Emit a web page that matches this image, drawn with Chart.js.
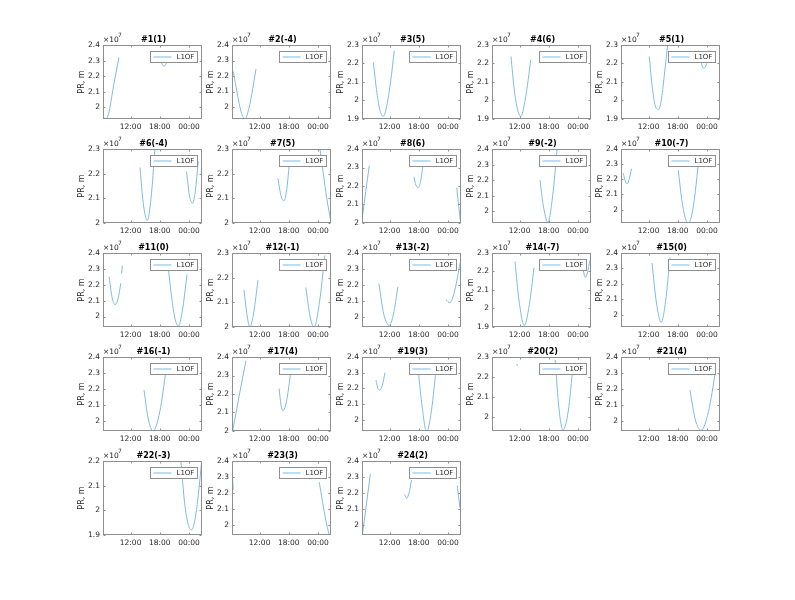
<!DOCTYPE html>
<html><head><meta charset="utf-8">
<script src="https://cdn.jsdelivr.net/npm/chart.js@4.4.0/dist/chart.umd.min.js"></script>
<style>
body{margin:0;background:#fff;}
#wrap{position:relative;width:795px;height:600px;background:#fff;overflow:hidden;}
#wrap canvas{position:absolute;}
</style></head><body><div id="wrap"></div>
<script>
// pseudorange (x1e7 m) per GLONASS slot, hours of day (24+ = next day)
const titles = ['#1(1)','#2(-4)','#3(5)','#4(6)','#5(1)','#6(-4)','#7(5)','#8(6)','#9(-2)','#10(-7)',
  '#11(0)','#12(-1)','#13(-2)','#14(-7)','#15(0)','#16(-1)','#17(4)','#19(3)','#20(2)','#21(4)',
  '#22(-3)','#23(3)','#24(2)'];
const yMins = [1.925,1.923,1.9,1.9,1.9, 2.0,2.0,2.0,1.925,1.912, 1.934,2.0,1.94,1.9,1.92, 1.94,2.0,1.93,1.93,1.94, 1.9,1.936,1.936];
const yMaxs = [2.4,2.4,2.3,2.3,2.3, 2.3,2.3,2.4,2.4,2.4, 2.4,2.3,2.4,2.3,2.4, 2.4,2.4,2.4,2.3,2.4, 2.2,2.4,2.4];
const xMin = 6.33, xMax = 26.67;
const xTicks = [12, 18, 24];
const xTickLabels = ['12:00', '18:00', '00:00'];
const seriesName = 'L1OF';

const sat1 = [[[6.33,1.94],[6.9,1.926],[7.5,1.96],[8.45,2.13],[9.0,2.22],[9.6,2.32]],
  [[17.8,2.36],[18.2,2.3],[18.8,2.265],[19.5,2.3],[19.8,2.36]]];
const sat2 = [[[6.6,2.23],[7.4,2.09],[8.2,1.97],[9.0,1.922],[9.8,1.99],[10.6,2.12],[11.26,2.245]],
  [[19.8,2.31],[19.95,2.29]]];
const sat3 = [[[8.65,2.208],[9.3,2.06],[10.0,1.95],[10.7,1.914],[11.4,1.97],[12.2,2.1],[12.96,2.269]]];
const sat4 = [[[10.23,2.238],[10.9,2.06],[11.6,1.95],[12.28,1.914],[12.9,1.97],[13.6,2.08],[14.28,2.22]]];
const sat5 = [[[12.14,2.238],[12.8,2.06],[13.4,1.97],[13.99,1.95],[14.6,2.0],[15.2,2.13],[15.7,2.248],[16.0,2.32]],
  [[22.3,2.27],[22.76,2.21],[23.3,2.175],[24.05,2.21],[24.4,2.27]]];
const sat6 = [[[13.93,2.225],[14.6,2.08],[15.43,2.01],[16.2,2.1],[17.0,2.3]],
  [[23.5,2.208],[24.1,2.11],[24.75,2.08],[25.3,2.13],[25.9,2.25]]];
const sat7 = [[[15.78,2.18],[16.4,2.11],[17.0,2.09],[17.6,2.14],[18.2,2.26]],
  [[24.4,2.3],[25.1,2.2],[25.8,2.1],[26.6,2.01]]];
const sat8 = [[[6.45,2.04],[7.1,2.17],[7.83,2.31]],
  [[17.0,2.25],[17.4,2.205],[17.9,2.19],[18.4,2.23],[18.9,2.32]],
  [[25.8,2.19],[26.2,2.09],[26.6,2.0]]];
const sat9 = [[[16.2,2.2],[16.8,2.05],[17.8,1.93],[18.8,2.1],[19.7,2.4]]];
const sat10 = [[[6.8,2.24],[7.2,2.19],[7.6,2.17],[8.0,2.2],[8.5,2.27]],
  [[18.1,2.26],[18.8,2.07],[19.5,1.95],[20.15,1.91],[20.9,1.97],[21.6,2.12],[22.3,2.33]]];
const sat11 = [[[7.6,2.25],[8.2,2.12],[8.8,2.075],[9.4,2.11],[10.0,2.21]],
  [[10.15,2.27],[10.3,2.32]],
  [[19.7,2.32],[20.4,2.13],[21.1,1.99],[21.8,1.94],[22.6,2.03],[23.6,2.265]]];
const sat12 = [[[8.8,2.15],[9.4,2.05],[10.0,2.0],[10.8,2.06],[11.67,2.19]],
  [[21.5,2.16],[22.4,2.04],[23.2,2.0],[24.3,2.1],[25.4,2.29]]];
const sat13 = [[[9.8,2.21],[10.8,2.02],[11.9,1.95],[12.8,2.02],[13.7,2.19]],
  [[23.6,2.11],[24.4,2.09],[25.4,2.17],[26.5,2.34]]];
const sat14 = [[[11.05,2.254],[11.9,2.04],[12.96,1.908],[14.0,2.02],[14.96,2.22]],
  [[24.95,2.22],[25.5,2.168],[26.0,2.2],[26.45,2.26]]];
const sat15 = [[[12.7,2.335],[13.6,2.08],[14.6,1.95],[15.5,2.09],[16.4,2.37]]];
const sat16 = [[[14.75,2.195],[15.6,2.02],[16.6,1.94],[18.0,2.06],[19.3,2.32]]];
const sat17 = [[[6.5,2.005],[7.8,2.19],[9.2,2.38]],
  [[16.0,2.23],[16.4,2.14],[16.8,2.11],[17.6,2.17],[18.4,2.32]]];
const sat19 = [[[9.2,2.253],[9.6,2.2],[10.0,2.19],[10.5,2.22],[11.05,2.3]],
  [[17.9,2.31],[18.7,2.08],[19.6,1.925],[20.6,2.06],[21.67,2.36]]];
const sat20 = [[[11.45,2.265],[11.55,2.255]],
  [[19.3,2.285],[20.1,2.04],[20.9,1.935],[22.0,2.03],[23.0,2.26]]];
const sat21 = [[[20.5,2.195],[21.6,2.01],[22.8,1.945],[24.3,2.06],[25.8,2.32]]];
const sat22 = [[[22.35,2.196],[23.1,2.03],[23.8,1.945],[24.5,1.92],[25.2,1.96],[25.9,2.06],[26.6,2.2]]];
const sat23 = [[[6.4,2.31],[6.6,2.22]],
  [[24.26,2.267],[24.9,2.15],[25.6,2.03],[26.3,1.936]]];
const sat24 = [[[6.4,1.936],[7.2,2.12],[8.05,2.32]],
  [[15.1,2.19],[15.47,2.167],[16.0,2.2],[16.5,2.28]],
  [[25.9,2.245],[26.2,2.17],[26.45,2.107]]];
const prSeries = [sat1,sat2,sat3,sat4,sat5,sat6,sat7,sat8,sat9,sat10,sat11,sat12,sat13,sat14,sat15,
  sat16,sat17,sat19,sat20,sat21,sat22,sat23,sat24];

// layout of the 5x5 grid (plot boxes)
const colLeft = [103, 232, 362, 492, 621];
const rowTop = [45, 149, 253, 357, 461];
const plotW = 99, plotH = 74;
const padL = 42, padT = 20, padR = 4, padB = 20;

const lineColor = '#7dbbe6';
const boxColor = '#8f8f8f';
const txtColor = '#262626';
const fontFam = '"DejaVu Sans", sans-serif';

function toPoints(segs) {
    const out = [];
    segs.forEach((seg, k) => {
        if (k > 0) out.push({ x: (seg[0][0] + segs[k - 1][segs[k - 1].length - 1][0]) / 2, y: null });
        seg.forEach(p => out.push({ x: p[0], y: p[1] }));
    });
    return out;
}

const decorPlugin = {
    id: 'decor',
    afterDatasetsDraw(chart, args, opts) {
        const ctx = chart.ctx, a = chart.chartArea;
        const l = Math.round(a.left) + 0.5, t = Math.round(a.top) + 0.5;
        const r = Math.round(a.right) - 0.5, b = Math.round(a.bottom) - 0.5;
        ctx.save();
        // small inward tick marks
        ctx.strokeStyle = boxColor;
        ctx.lineWidth = 1;
        ctx.beginPath();
        chart.scales.y.ticks.forEach(tk => {
            const py = Math.round(chart.scales.y.getPixelForValue(tk.value)) + 0.5;
            ctx.moveTo(l, py); ctx.lineTo(l + 2, py);
            ctx.moveTo(r, py); ctx.lineTo(r - 2, py);
        });
        chart.scales.x.ticks.forEach(tk => {
            const px = Math.round(chart.scales.x.getPixelForValue(tk.value)) + 0.5;
            ctx.moveTo(px, b); ctx.lineTo(px, b - 2);
            ctx.moveTo(px, t); ctx.lineTo(px, t + 2);
        });
        ctx.stroke();
        // legend box
        const lw = 47, lh = 11;
        const lx = Math.round(a.right) - 5 - lw + 0.5, ly = Math.round(a.top) + 6 + 0.5;
        ctx.fillStyle = '#fff';
        ctx.fillRect(lx, ly, lw, lh);
        ctx.strokeStyle = boxColor;
        ctx.strokeRect(lx, ly, lw, lh);
        ctx.strokeStyle = lineColor;
        ctx.beginPath();
        ctx.moveTo(lx + 3, ly + 5.5); ctx.lineTo(lx + 21, ly + 5.5);
        ctx.stroke();
        ctx.fillStyle = txtColor;
        ctx.font = '7px ' + fontFam;
        ctx.textBaseline = 'middle';
        ctx.textAlign = 'left';
        ctx.fillText(seriesName, lx + 26, ly + 6);
        // box
        ctx.strokeStyle = boxColor;
        ctx.strokeRect(l, t, r - l, b - t);
        // title
        ctx.fillStyle = '#000';
        ctx.font = 'bold 8px ' + fontFam;
        ctx.textAlign = 'center';
        ctx.textBaseline = 'alphabetic';
        ctx.fillText(opts.title, (a.left + a.right) / 2 + 1, a.top - 3);
        // exponent
        ctx.fillStyle = txtColor;
        ctx.font = '7.5px ' + fontFam;
        ctx.textAlign = 'left';
        ctx.fillText('\u00d710', a.left, a.top - 3);
        ctx.font = '6px ' + fontFam;
        ctx.fillText('7', a.left + 15, a.top - 8);
        // y label
        ctx.font = '8px ' + fontFam;
        ctx.translate(a.left - 21, (a.top + a.bottom) / 2);
        ctx.rotate(-Math.PI / 2);
        ctx.textAlign = 'center';
        ctx.textBaseline = 'middle';
        ctx.fillText('PR, m', 0, 0);
        ctx.restore();
    }
};

const wrap = document.getElementById('wrap');
titles.forEach((title, i) => {
    const row = Math.floor(i / 5), col = i % 5;
    const cv = document.createElement('canvas');
    const w = padL + plotW + padR, h = padT + plotH + padB;
    cv.width = w; cv.height = h;
    cv.style.left = (colLeft[col] - padL) + 'px';
    cv.style.top = (rowTop[row] - padT) + 'px';
    cv.style.width = w + 'px'; cv.style.height = h + 'px';
    wrap.appendChild(cv);

    const yMin = yMins[i], yMax = yMaxs[i];
    new Chart(cv, {
        type: 'line',
        data: {
            datasets: [{
                label: seriesName,
                data: toPoints(prSeries[i]),
                borderColor: lineColor,
                borderWidth: 1,
                pointRadius: 0,
                spanGaps: false,
                tension: 0.4,
                cubicInterpolationMode: 'monotone'
            }]
        },
        options: {
            responsive: false,
            animation: false,
            devicePixelRatio: 1,
            layout: { padding: { top: padT, right: padR, left: 0, bottom: 0 } },
            plugins: {
                legend: { display: false },
                tooltip: { enabled: false },
                decor: { title: title }
            },
            scales: {
                x: {
                    type: 'linear', min: xMin, max: xMax,
                    grid: { display: false, drawTicks: false },
                    border: { display: false },
                    afterBuildTicks: s => { s.ticks = xTicks.map(v => ({ value: v })); },
                    afterFit: s => { s.height = padB; },
                    ticks: {
                        padding: 4, maxRotation: 0, autoSkip: false,
                        color: txtColor, font: { family: fontFam, size: 7.5 },
                        callback: v => xTickLabels[xTicks.indexOf(v)]
                    }
                },
                y: {
                    type: 'linear', min: yMin, max: yMax,
                    grid: { display: false, drawTicks: false },
                    border: { display: false },
                    afterBuildTicks: s => {
                        const tk = [];
                        for (let v = Math.ceil(yMin * 10 - 1e-6); v <= Math.floor(yMax * 10 + 1e-6); v++) tk.push({ value: v / 10 });
                        s.ticks = tk;
                    },
                    afterFit: s => { s.width = padL; },
                    ticks: {
                        padding: 3, color: txtColor, font: { family: fontFam, size: 7.5 },
                        callback: v => String(+v.toFixed(1))
                    }
                }
            }
        },
        plugins: [decorPlugin]
    });
});
</script></body></html>
